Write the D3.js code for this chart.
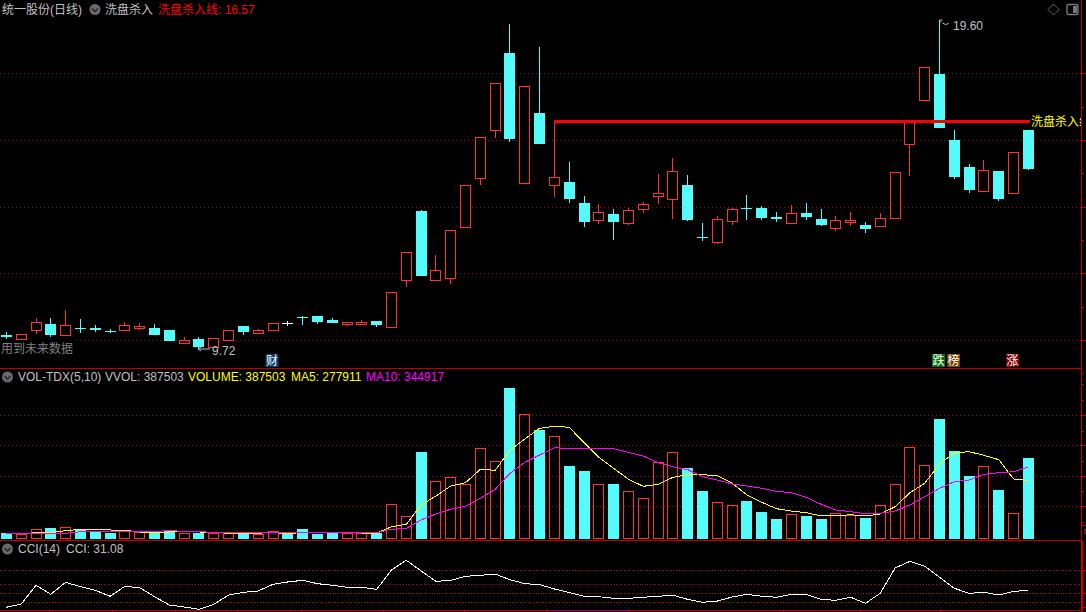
<!DOCTYPE html>
<html><head><meta charset="utf-8">
<script src="https://cdn.jsdelivr.net/npm/d3@7/dist/d3.min.js"></script>
<style>
html,body{margin:0;padding:0;background:#000;overflow:hidden}
svg{display:block}
text{font-family:"Liberation Sans","Noto Sans CJK SC",sans-serif;font-size:12px}
</style></head><body><div id="c"></div>
<script>
const opens=[10.15,10.02,10.31,10.48,10.14,10.36,10.35,10.27,10.29,10.37,10.35,10.30,9.92,10.03,9.80,10.01,10.42,10.22,10.30,10.52,10.70,10.72,10.60,10.49,10.49,10.57,10.40,11.79,13.87,11.79,11.85,13.40,14.85,16.29,18.61,14.70,16.81,14.64,14.73,14.11,13.59,13.78,13.50,13.92,14.31,14.22,14.65,13.09,12.93,13.58,13.96,13.95,13.69,13.50,13.81,13.63,13.37,13.55,13.45,13.43,13.67,15.87,17.21,17.98,16.00,15.19,14.48,15.07,14.42,16.30];
const closes=[10.09,10.17,10.55,10.16,10.44,10.33,10.30,10.25,10.44,10.41,10.16,9.97,9.99,9.79,10.05,10.29,10.24,10.29,10.50,10.52,10.68,10.55,10.52,10.54,10.55,10.45,11.45,12.63,11.93,12.09,13.29,14.64,16.08,17.70,16.04,17.61,15.89,14.88,14.24,13.55,13.83,13.55,13.89,14.07,14.40,15.06,13.61,13.07,13.62,13.92,13.94,13.67,13.64,13.80,13.70,13.45,13.59,13.60,13.34,13.65,15.03,16.54,18.18,16.37,14.90,14.51,15.09,14.23,15.63,15.14];
const highs=[10.23,10.17,10.66,10.66,10.90,10.62,10.45,10.32,10.53,10.50,10.48,10.30,10.08,10.09,10.05,10.29,10.42,10.33,10.50,10.58,10.72,10.72,10.66,10.54,10.59,10.57,11.45,12.63,13.90,12.54,13.29,14.64,16.08,17.70,19.48,17.61,18.79,16.57,15.33,14.32,14.07,13.92,13.96,14.13,14.98,15.46,14.95,13.50,13.72,13.96,14.35,14.02,13.84,14.05,14.11,13.93,13.72,13.84,13.54,13.80,15.03,16.57,18.18,19.60,16.30,15.28,15.40,15.07,15.63,16.30];
const lows=[10.03,10.02,10.19,10.10,10.14,10.22,10.25,10.20,10.26,10.30,10.16,9.97,9.89,9.72,9.80,10.01,10.15,10.20,10.27,10.43,10.46,10.48,10.52,10.43,10.45,10.39,10.40,11.60,11.93,11.79,11.69,13.37,14.66,16.07,15.95,14.70,15.89,14.30,14.12,13.40,13.49,13.01,13.46,13.82,14.09,13.64,13.58,12.98,12.89,13.46,13.60,13.61,13.54,13.50,13.61,13.42,13.27,13.43,13.22,13.43,13.67,14.93,17.21,16.37,14.84,14.42,14.45,14.18,14.42,15.10];
const volumes=[24200,17900,42100,48400,51800,42100,29100,24200,32500,27600,27600,33900,22800,25700,22800,22800,20800,17900,32500,17900,42100,20800,24200,22800,22800,22800,163200,105100,416600,274700,294000,260100,434500,371500,726600,599200,523200,492600,348800,324500,260100,261600,226200,192300,366700,415100,339100,227700,172900,158400,179200,125900,92000,114800,106600,92000,119600,111400,96900,158400,260100,439300,352200,576400,421400,300300,347300,232500,119600,387503];
const ma5=[19400,19400,25700,27600,35400,42100,40200,38800,37300,29100,27600,29100,30500,29100,27600,22800,22800,22800,27600,19400,27600,27600,25700,25700,24200,24200,54700,66400,159900,203400,251900,267900,332800,327900,426300,479600,531400,541100,536200,461600,390900,337600,284300,250400,260100,294000,306600,306600,301800,265000,208300,172900,141900,130800,122600,106600,106600,112900,106600,116300,151600,219400,265000,358500,413200,418000,400600,379300,285800,277911];
const ma10=[22800,22800,22800,22800,22800,30500,30500,30500,30500,30000,30000,37300,30500,30500,27600,25700,25700,25700,25700,25700,27600,25700,25700,25700,25700,25700,42100,47000,87200,116300,139000,153600,192300,235900,313400,366700,402100,437400,432600,432600,432600,432600,415100,397200,364800,345400,330900,296900,281000,261600,251900,240700,226200,219400,197200,163200,135600,127400,117700,119600,130800,159900,200100,240700,272700,281000,308600,316300,321200,344917];
const cci=[-155,-119,89,-11,122,73,33,-33,78,62,-38,-130,-152,-178,-122,-19,11,26,100,126,144,107,89,67,67,44,259,367,248,133,144,189,200,214,151,107,96,48,7,-33,-38,-56,-56,-44,-33,-22,-67,-100,-86,-41,-11,-33,-44,-11,-11,-67,-78,-44,-111,0,281,355,300,178,56,0,11,-19,22,31.08];
const signalLevel=16.57, signalStart=36.95, signalEnd=69.08;
const priceGrid=[10,12,14,16,18], priceMinor=[11,13,15,17,9];
const volumeGrid=[153000,299000,449000,594000], volumeMinor=[76000,226000,374000,520000,668000,746000];
const cciGrid=[-100,0,100,255];
const dateTicks=[2.88,7.14,11.4,15.6,19.9,25.4,30.9,36.4,42,52.4,57.6,63];

const W=1086,H=612, RIGHT=1081;
const RED="#ff3232", CYAN="#54fcfc", AXIS="#c00000";
const svg=d3.select("#c").append("svg").attr("width",W).attr("height",H).style("background","#000");
svg.append("defs").append("clipPath").attr("id","plot").append("rect").attr("x",0).attr("y",0).attr("width",RIGHT).attr("height",H);

const x=d3.scaleLinear().domain([0,69]).range([6.4,1028.4]);
const X=i=>Math.floor(x(i));
const yP=d3.scaleLinear().domain([10,19.6]).range([340,340-9.6/0.03]);
const yV=d3.scaleLinear().domain([0,726600]).range([538,388]);
const yC=d3.scaleLinear().domain([0,100]).range([593.3,584.3]);
const R=v=>Math.round(v);

function grid(scale,vals,color,dash){
  svg.append("g").selectAll("line").data(vals).join("line")
   .attr("x1",0).attr("x2",RIGHT).attr("y1",d=>R(scale(d))+.5).attr("y2",d=>R(scale(d))+.5)
   .attr("stroke",color).attr("stroke-dasharray",dash).attr("shape-rendering","crispEdges");
}
grid(yP,priceGrid,"#7a1616","1 3");
grid(yV,volumeGrid,"#961414","1 3");
grid(yC,cciGrid,"#b01414","1 1.6");

[368,540,610].forEach(y=>svg.append("line").attr("x1",0).attr("x2",RIGHT+1).attr("y1",y+.5).attr("y2",y+.5)
  .attr("stroke",AXIS).attr("shape-rendering","crispEdges"));

function rightAxis(scale,major,minor){
  const mk=(vals,size)=>{
    const g=svg.append("g").attr("transform",`translate(${RIGHT+.5},0)`)
      .call(d3.axisRight(scale).tickValues(vals).tickSize(size).tickSizeOuter(0).tickFormat(""));
    g.select(".domain").remove();
    g.selectAll("line").attr("stroke",AXIS).attr("shape-rendering","crispEdges");
    g.selectAll(".tick").attr("transform",d=>`translate(0,${R(scale(d))+.5})`);
  };
  mk(major,5); mk(minor,2);
}
rightAxis(yP,priceGrid,priceMinor);
rightAxis(yV,volumeGrid,volumeMinor);
rightAxis(yC,[255,0,-155],[]);
svg.append("line").attr("x1",RIGHT+.5).attr("x2",RIGHT+.5).attr("y1",0).attr("y2",H).attr("stroke",AXIS).attr("shape-rendering","crispEdges");
svg.append("rect").attr("x",RIGHT).attr("y",541).attr("width",2.5).attr("height",70).attr("fill",AXIS);
svg.append("line").attr("x1",RIGHT).attr("x2",W).attr("y1",525.5).attr("y2",525.5).attr("stroke",AXIS).attr("shape-rendering","crispEdges");
svg.append("text").attr("x",1083).attr("y",536).attr("fill",RED).text("×");

const bx=svg.append("g").attr("transform","translate(0,610.5)").call(d3.axisBottom(x).tickValues(dateTicks).tickSize(2).tickSizeOuter(0).tickFormat(""));
bx.select(".domain").remove();
bx.selectAll("line").attr("stroke",AXIS).attr("shape-rendering","crispEdges");
svg.append("line").attr("x1",x(36.8)).attr("x2",x(42)).attr("y1",611).attr("y2",611).attr("stroke","#000080").attr("stroke-width",1).attr("shape-rendering","crispEdges");

svg.append("rect").attr("x",0).attr("y",336).attr("width",73).attr("height",22).attr("fill","#000");

const idx=d3.range(opens.length);
const colorOf=i=>closes[i]>opens[i]?RED:closes[i]<opens[i]?CYAN:"#ffffff";
const candles=svg.append("g").selectAll("g").data(idx).join("g");
candles.each(function(i){
  const g=d3.select(this), cx=X(i), c=colorOf(i);
  const top=R(yP(Math.max(opens[i],closes[i]))), bot=R(yP(Math.min(opens[i],closes[i])));
  const hi=R(yP(highs[i])), lo=R(yP(lows[i]));
  if(hi<top) g.append("line").attr("x1",cx+.5).attr("x2",cx+.5).attr("y1",hi).attr("y2",top).attr("stroke",c).attr("shape-rendering","crispEdges");
  if(lo>bot) g.append("line").attr("x1",cx+.5).attr("x2",cx+.5).attr("y1",bot).attr("y2",lo).attr("stroke",c).attr("shape-rendering","crispEdges");
  if(c===RED){
    g.append("rect").attr("x",cx-5+.5).attr("y",top+.5).attr("width",10).attr("height",Math.max(1,bot-top)).attr("fill","#000").attr("stroke",c).attr("shape-rendering","crispEdges");
  }else{
    g.append("rect").attr("x",cx-5).attr("y",top).attr("width",11).attr("height",Math.max(1,bot-top)).attr("fill",c).attr("shape-rendering","crispEdges");
  }
});

svg.append("line").attr("x1",x(signalStart)).attr("x2",x(signalEnd)).attr("y1",R(yP(signalLevel))+.5).attr("y2",R(yP(signalLevel))+.5).attr("stroke","#ff0000").attr("stroke-width",3).attr("shape-rendering","crispEdges");
svg.append("text").attr("x",1031).attr("y",126).attr("fill","#ffff00").attr("clip-path","url(#plot)").text("洗盘杀入线");

svg.append("g").selectAll("rect").data(idx).join("rect")
 .each(function(i){
   const s=d3.select(this), cx=X(i), top=R(yV(volumes[i])), y0=R(yV(0));
   if(closes[i]>opens[i]) s.attr("x",cx-5+.5).attr("y",top+.5).attr("width",10).attr("height",y0-top).attr("fill","none").attr("stroke",RED);
   else s.attr("x",cx-5).attr("y",top).attr("width",11).attr("height",y0-top+1).attr("fill",CYAN);
 }).attr("shape-rendering","crispEdges");

const lineV=d3.line().x((d,i)=>x(i)).y(d=>yV(d));
svg.append("path").attr("d",lineV(ma5)).attr("fill","none").attr("stroke","#ffff00").attr("shape-rendering","crispEdges");
svg.append("path").attr("d",lineV(ma10)).attr("fill","none").attr("stroke","#ff00ff").attr("shape-rendering","crispEdges");
const lineC=d3.line().x((d,i)=>x(i)).y(d=>yC(d));
svg.append("path").attr("d",lineC(cci)).attr("fill","none").attr("stroke","#ffffff").attr("shape-rendering","crispEdges");

function T(s,px,py,col){svg.append("text").attr("x",px).attr("y",py).attr("fill",col).text(s);}
function icon(cx,cy){
  svg.append("circle").attr("cx",cx).attr("cy",cy).attr("r",5.5).attr("fill","#6a6a6a");
  svg.append("path").attr("d",`M${cx-3},${cy-1}L${cx},${cy+2}L${cx+3},${cy-1}`).attr("fill","none").attr("stroke","#222").attr("stroke-width",1.3);
}
const G="#c0c0c0";
T("统一股份(日线)",2,14,G); icon(95,9.5); T("洗盘杀入",105,14,G); T("洗盘杀入线: 16.57",158,14,"#ff0000");
icon(7.5,377); T("VOL-TDX(5,10)",18,381,G); T("VVOL: 387503",105,381,G); T("VOLUME: 387503",188,381,"#ffff00"); T("MA5: 277911",291,381,"#ffff00"); T("MA10: 344917",366,381,"#ff00ff");
icon(7.5,549); T("CCI(14)",18,553,G); T("CCI: 31.08",66,553,G);
T("用到未来数据",1,353,"#808080");

const iLow=lows.indexOf(d3.min(lows)), iHigh=highs.indexOf(d3.max(highs));
svg.append("path").attr("d",`M${X(iLow)},${R(yP(d3.min(lows)))}l3,-2m-3,2l3,2m-3,-2h12`).attr("fill","none").attr("stroke",G);
T(d3.format(".2f")(d3.min(lows)),212,355,G);
svg.append("path").attr("d",`M${X(iHigh)+.5},${R(yP(d3.max(highs)))}h3m-3,2h2m1,1l3,1.5l3,-1`).attr("fill","none").attr("stroke",G);
T(d3.format(".2f")(d3.max(highs)),953,30,G);

[["财",265.5,"#0a3c6e"],["跌",932,"#0a6e0a"],["榜",947,"#7a4000"],["涨",1006,"#800000"]].forEach(([s,bxx,col])=>{
  svg.append("rect").attr("x",bxx).attr("y",354).attr("width",13).attr("height",13).attr("fill",col);
  svg.append("text").attr("x",bxx+.5).attr("y",365).attr("fill","#fff").text(s);
});

svg.append("path").attr("d","M1053.5,4L1059,9.5L1053.5,15L1048,9.5Z").attr("fill","none").attr("stroke","#666");
svg.append("rect").attr("x",1067).attr("y",4.5).attr("width",11).attr("height",10).attr("rx",1.5).attr("fill","none").attr("stroke","#777").attr("stroke-width",1.4);
svg.append("rect").attr("x",1073).attr("y",6).attr("width",4).attr("height",7).attr("fill","#777");
</script></body></html>
